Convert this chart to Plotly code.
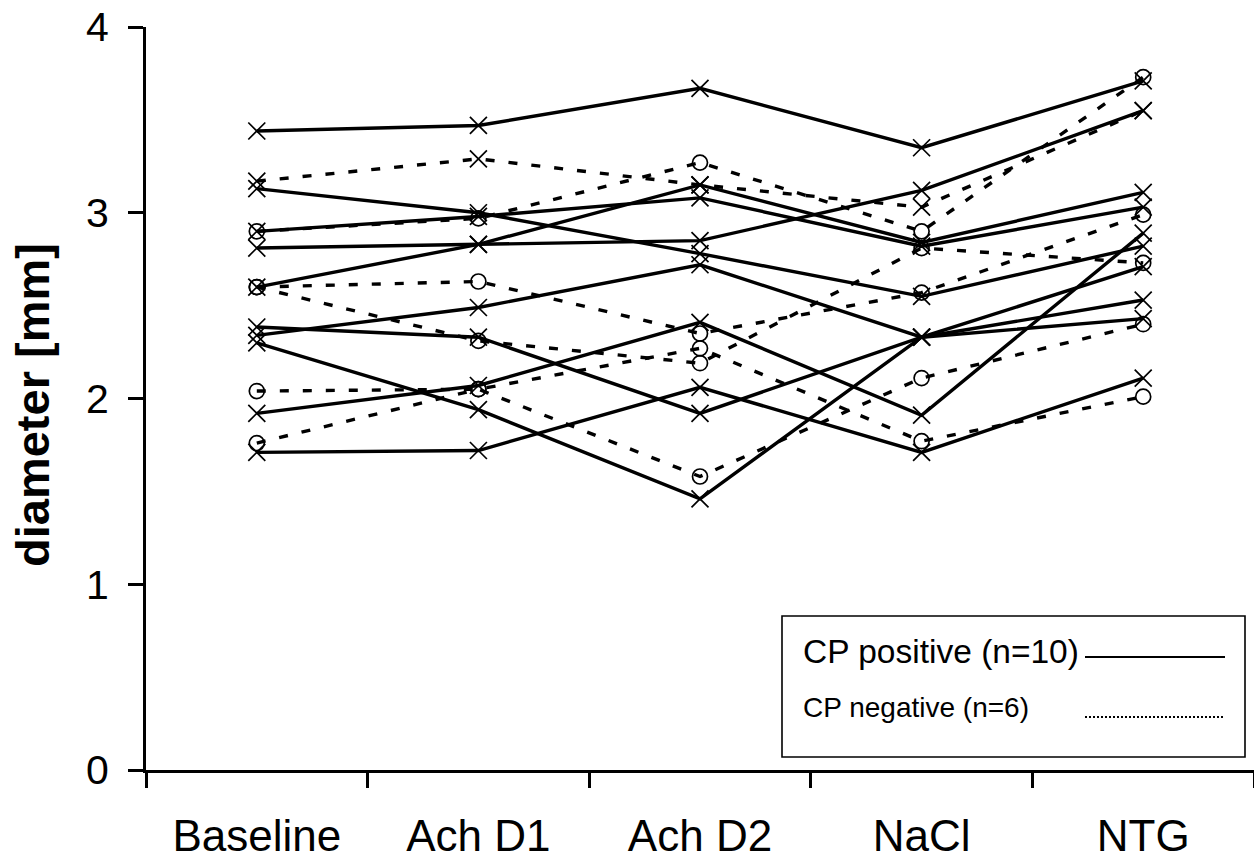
import plotly.graph_objects as go

categories = ["Baseline", "Ach D1", "Ach D2", "NaCl", "NTG"]
y_ticks = [0, 1, 2, 3, 4]

# CP positive (n=10), solid lines, x markers
pos_1 = [3.44, 3.47, 3.67, 3.35, 3.71]
pos_2 = [3.13, 3.00, 2.78, 2.55, 2.82]
pos_3 = [2.90, 2.98, 3.08, 2.82, 3.03]
pos_4 = [2.81, 2.83, 2.85, 3.12, 3.55]
pos_5 = [2.60, 2.83, 3.15, 2.84, 3.11]
pos_6 = [2.385, 2.33, 1.92, 2.33, 2.53]
pos_7 = [2.34, 2.49, 2.72, 2.33, 2.71]
pos_8 = [2.30, 1.94, 1.46, 2.33, 2.43]
pos_9 = [1.92, 2.07, 2.41, 1.91, 2.89]
pos_10 = [1.71, 1.72, 2.06, 1.71, 2.11]

# CP negative (n=6), dotted lines
neg_1 = [3.17, 3.29, 3.15, 3.03, 3.55]
neg_2 = [2.90, 2.97, 3.27, 2.90, 3.73]
neg_3 = [2.60, 2.63, 2.35, 2.57, 2.99]
neg_4 = [2.60, 2.31, 2.19, 2.81, 2.73]
neg_5 = [2.04, 2.05, 2.27, 1.77, 2.01]
neg_6 = [1.76, 2.05, 1.58, 2.11, 2.40]

positive = [pos_1, pos_2, pos_3, pos_4, pos_5, pos_6, pos_7, pos_8, pos_9, pos_10]
negative = [neg_1, neg_2, neg_3, neg_4, neg_5, neg_6]
negative_symbols = ["x-thin", "circle-open", "circle-open", "circle-open", "circle-open", "circle-open"]

FONT = "Liberation Sans, Arial, Helvetica, sans-serif"

fig = go.Figure()

for vals, sym in zip(negative, negative_symbols):
    fig.add_trace(go.Scatter(
        x=categories, y=vals, mode="lines+markers",
        line=dict(color="black", width=3.4, dash="9px,14px"),
        marker=dict(symbol=sym, size=15 if sym != "x-thin" else 17,
                    color="black", line=dict(color="black", width=1.7)),
        showlegend=False, hoverinfo="skip",
    ))

for vals in positive:
    fig.add_trace(go.Scatter(
        x=categories, y=vals, mode="lines+markers",
        line=dict(color="black", width=3.4),
        marker=dict(symbol="x-thin", size=17, color="black",
                    line=dict(color="black", width=1.7)),
        showlegend=False, hoverinfo="skip",
    ))

W, H = 1254, 863
L, R, T, B = 146, 0, 27, 93
pw, ph = W - L - R, H - T - B

def px(x):
    return (x - L) / pw

def py(y):
    return (H - B - y) / ph

fig.update_layout(
    width=W, height=H,
    margin=dict(l=L, r=R, t=T, b=B),
    paper_bgcolor="white", plot_bgcolor="white",
    font=dict(family=FONT, color="black"),
    xaxis=dict(
        type="category", categoryorder="array", categoryarray=categories,
        range=[-0.5, 4.5], tickson="boundaries", ticks="outside", ticklen=15,
        tickwidth=3, tickcolor="black", showline=True, linewidth=3, linecolor="black",
        showgrid=False, zeroline=False, tickfont=dict(size=44, family=FONT),
        ticklabelstandoff=25,
    ),
    yaxis=dict(
        range=[0, 4], tickmode="array", tickvals=y_ticks,
        ticktext=[str(v) for v in y_ticks],
        ticks="outside", ticklen=15, tickwidth=3, tickcolor="black",
        showline=True, linewidth=3, linecolor="black",
        showgrid=False, zeroline=False, tickfont=dict(size=41, family=FONT),
        ticklabelstandoff=11,
    ),
)

# y-axis title
fig.add_annotation(
    text="<b>diameter [mm]</b>", xref="paper", yref="paper",
    x=px(32), y=py(405), xanchor="center", yanchor="middle",
    textangle=-90, showarrow=False, font=dict(size=47, family=FONT),
)

# legend box
fig.add_shape(type="rect", xref="paper", yref="paper",
              x0=px(782), x1=px(1245), y0=py(757), y1=py(616),
              line=dict(color="black", width=1.6), fillcolor="white", layer="above")
fig.add_shape(type="line", xref="paper", yref="paper",
              x0=px(1085), x1=px(1225), y0=py(657), y1=py(657),
              line=dict(color="black", width=2), layer="above")
fig.add_shape(type="line", xref="paper", yref="paper",
              x0=px(1085), x1=px(1225), y0=py(717), y1=py(717),
              line=dict(color="black", width=2, dash="2px,2px"), layer="above")
fig.add_annotation(
    text="CP positive (n=10)", xref="paper", yref="paper",
    x=px(801), y=py(651), xanchor="left", yanchor="middle",
    showarrow=False, font=dict(size=33.5, family=FONT),
)
fig.add_annotation(
    text="CP negative (n=6)", xref="paper", yref="paper",
    x=px(801), y=py(707), xanchor="left", yanchor="middle",
    showarrow=False, font=dict(size=28, family=FONT),
)

fig.write_html("out.html", config={"displayModeBar": False},
               post_script="document.body.style.margin='0';")
